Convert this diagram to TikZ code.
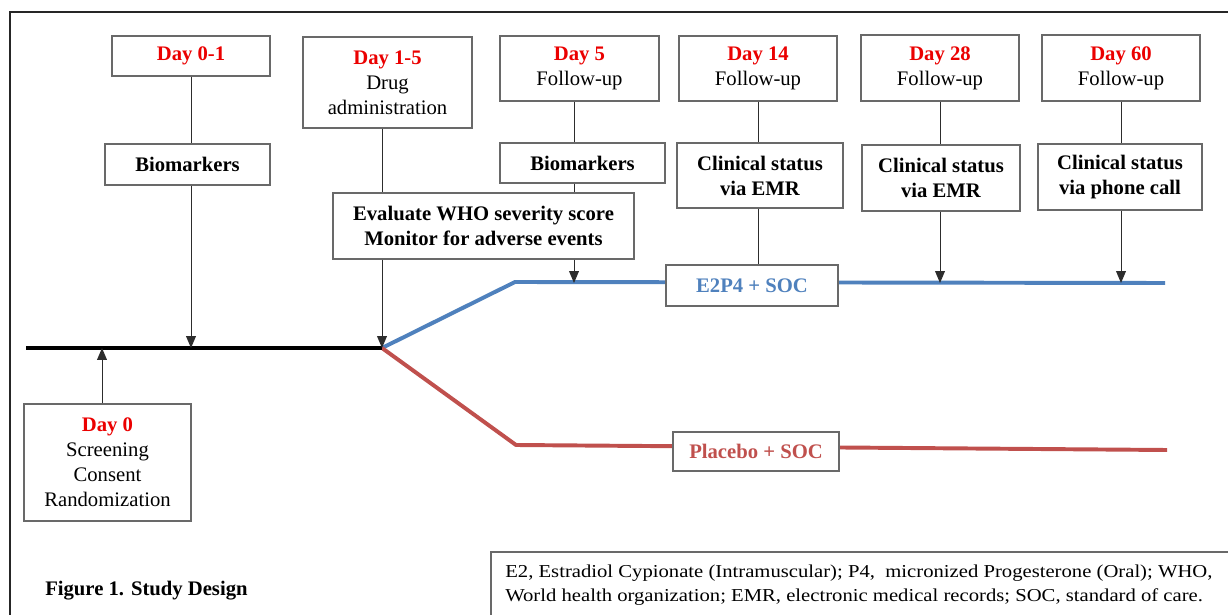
\documentclass[tikz,border=0pt]{standalone}
\usepackage{fontspec}
\setmainfont{Liberation Serif}
\usetikzlibrary{arrows.meta}

\definecolor{dayred}{RGB}{235,0,0}
\definecolor{armblue}{RGB}{79,129,189}
\definecolor{armred}{RGB}{192,80,77}
\definecolor{boxgray}{RGB}{105,105,105}
\definecolor{linkgray}{RGB}{45,45,45}

% one unit of the grid below
\newdimen\pxu \pxu=0.025cm

\newcommand{\mainsize}{\fontsize{14.7}{17.7}\selectfont}
\newcommand{\daylabel}[1]{\textcolor{dayred}{\bfseries #1}}
% abbreviations are set a little flatter
\newcommand{\squash}[1]{\scalebox{1}[0.88]{#1}}

\tikzset{
  stage/.style={draw=boxgray, line width=0.9pt, fill=white, align=center,
    inner sep=0pt, font=\mainsize},
  strong/.style={font=\mainsize\bfseries},
  link/.style={draw=linkgray, line width=0.7pt},
  arr/.style={link, -{Triangle[width=7pt,length=8.5pt]}},
  abbrev/.style={anchor=base west, inner sep=0pt, font=\mainsize},
}

\begin{document}
\begin{tikzpicture}[x=0.025cm, y=-0.025cm]

\useasboundingbox (0,0) rectangle (1228,615);
\fill[white] (0,0) rectangle (1228,615);

% outer frame
\draw[black!85, line width=1.5pt] (10,615) -- (10,12) -- (1228,12);

% timeline and the two arms
\coordinate (start) at (26,348);
\coordinate (entry) at (102,348);
\coordinate (split) at (382,348);
\coordinate (upA) at (515,282);
\coordinate (endA) at (1165,283);
\coordinate (tapA) at (574,283);
\coordinate (dnB) at (516,445);
\coordinate (endB) at (1167,450);

\draw[armblue, line width=2.8pt, line join=round] (split) -- (upA) -- (endA);
\draw[armred, line width=2.8pt, line join=round] (split) -- (dnB) -- (endB);
\draw[black, line width=3.5pt] (start) -- (split);

% day boxes along the top
\node[stage, minimum width=158\pxu, minimum height=40\pxu] (d01) at (191,56) {\daylabel{Day 0-1}};
\node[stage, minimum width=169\pxu, minimum height=91\pxu] (d15) at (387.5,82.5) {\daylabel{Day 1-5}\\Drug\\administration};
\node[stage, minimum width=159\pxu, minimum height=65\pxu] (d5) at (579.5,68.5) {\daylabel{Day 5}\\Follow-up};
\node[stage, minimum width=158\pxu, minimum height=65\pxu] (d14) at (758,68.5) {\daylabel{Day 14}\\Follow-up};
\node[stage, minimum width=158\pxu, minimum height=66\pxu] (d28) at (940,68) {\daylabel{Day 28}\\Follow-up};
\node[stage, minimum width=158\pxu, minimum height=66\pxu] (d60) at (1121,68) {\daylabel{Day 60}\\Follow-up};

% what happens on each day
\node[stage, strong, minimum width=165\pxu, minimum height=41\pxu] (bio1) at (187.5,164.5) {Biomarkers};
\node[stage, strong, minimum width=165\pxu, minimum height=40\pxu] (bio2) at (582.5,163) {Biomarkers};
\node[stage, strong, minimum width=301\pxu, minimum height=66\pxu] (eval) at (483.5,226) {Evaluate WHO severity score\\Monitor for adverse events};
\node[stage, strong, minimum width=166\pxu, minimum height=65\pxu] (cs14) at (760,175.5) {Clinical status\\via EMR};
\node[stage, strong, minimum width=158\pxu, minimum height=66\pxu] (cs28) at (941,178) {Clinical status\\via EMR};
\node[stage, strong, minimum width=164\pxu, minimum height=66\pxu] (cs60) at (1120,177) {Clinical status\\via phone call};

% arm labels sit on the lines
\node[stage, strong, text=armblue, minimum width=172\pxu, minimum height=41\pxu] (armA) at (752,285.5) {E2P4 + SOC};
\node[stage, strong, text=armred, minimum width=166\pxu, minimum height=39\pxu] (armB) at (756,451.5) {Placebo + SOC};

% enrolment
\node[stage, minimum width=167\pxu, minimum height=117\pxu] (d0) at (107.5,462.5) {\daylabel{Day 0}\\Screening\\Consent\\Randomization};

% connectors
\draw[link] (d01.south) -- (d01.south |- bio1.north);
\draw[arr] (d01.south |- bio1.south) -- (d01.south |- split);

\draw[link] (split |- d15.south) -- (split |- eval.north);
\draw[arr] (split |- eval.south) -- (split);

\draw[link] (tapA |- d5.south) -- (tapA |- bio2.north);
\draw[link] (tapA |- bio2.south) -- (tapA |- eval.north);
\draw[arr] (tapA |- eval.south) -- (tapA);

\draw[link] (d14.south) -- (d14.south |- cs14.north);
\draw[link] (d14.south |- cs14.south) -- (d14.south |- armA.north);

\draw[link] (d28.south) -- (d28.south |- cs28.north);
\draw[arr] (d28.south |- cs28.south) -- (d28.south |- endA);

\draw[link] (d60.south) -- (d60.south |- cs60.north);
\draw[arr] (d60.south |- cs60.south) -- (d60.south |- endA);

\draw[arr] (entry |- d0.north) -- (entry);

% caption and abbreviations
\node[anchor=base west, inner sep=0pt, font=\mainsize\bfseries] (title) at (45,595) {Figure 1. Study Design};

\draw[boxgray, line width=0.9pt] (491,615) -- (491,552) -- (1228,552);
\node[abbrev] (note1) at (505,577)
  {\squash{E2, Estradiol Cypionate (Intramuscular); P4,~ micronized Progesterone (Oral); WHO,}};
\node[abbrev] (note2) at (505,601)
  {\squash{World health organization; EMR, electronic medical records; SOC, standard of care.}};

\end{tikzpicture}
\end{document}
